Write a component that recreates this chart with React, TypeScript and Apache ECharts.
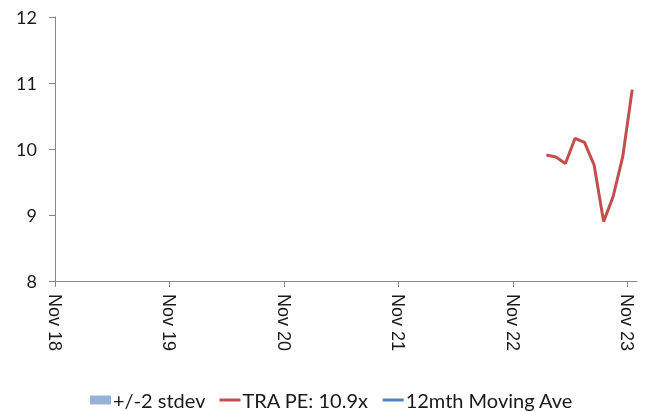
import React, { useEffect, useRef } from "react";
import * as echarts from "echarts";

// Month labels: months since Nov 2018 (mid-month observations)
const peMonths = ["2023-02", "2023-03", "2023-04", "2023-05", "2023-06", "2023-07", "2023-08", "2023-09", "2023-10", "2023-11"];
const peValues = [9.91, 9.88, 9.78, 10.16, 10.1, 9.76, 8.9, 9.28, 9.88, 10.9];
const xTickLabels = ["Nov 18", "Nov 19", "Nov 20", "Nov 21", "Nov 22", "Nov 23"];
const legendNames = ["+/-2 stdev", "TRA PE: 10.9x", "12mth Moving Ave"];

const monthIndex = (s: string) => {
  const [y, m] = s.split("-").map(Number);
  return (y - 2018) * 12 + (m - 11) + 0.5;
};

export default function App() {
  const ref = useRef<HTMLDivElement>(null);
  useEffect(() => {
    if (!ref.current) return;
    const chart = echarts.init(ref.current, undefined, { renderer: "svg" });
    const axisColor = "#868686";
    const tickVals = xTickLabels.map((_, i) => i * 12);
    chart.setOption({
      animation: false,
      grid: { left: 55, right: 21, top: 17, bottom: 130, containLabel: false },
      xAxis: {
        type: "value",
        min: 0,
        max: 61,
        interval: 12,
        axisLine: { show: true, lineStyle: { color: axisColor, width: 1 } },
        axisTick: { show: true, length: 6, lineStyle: { color: axisColor }, customValues: tickVals },
        splitLine: { show: false },
        axisLabel: {
          customValues: tickVals,
          rotate: -90,
          margin: 13,
          fontFamily: "Liberation Sans",
          fontSize: 18,
          color: "#1a1a1a",
          formatter: (v: number) => {
            const i = Math.round(v / 12);
            return Math.abs(v - i * 12) < 1e-6 ? xTickLabels[i] ?? "" : "";
          },
        },
      },
      yAxis: {
        type: "value",
        min: 8,
        max: 12,
        interval: 1,
        axisLine: { show: true, lineStyle: { color: axisColor, width: 1 } },
        axisTick: { show: true, length: 6, lineStyle: { color: axisColor } },
        splitLine: { show: false },
        axisLabel: { margin: 18, fontFamily: "Lato", fontSize: 18, color: "#1a1a1a" },
      },
      legend: {
        top: 390,
        left: 90,
        padding: 0,
        itemWidth: 21,
        itemHeight: 9,
        itemGap: 14,
        textStyle: { fontFamily: "Lato", fontSize: 20, color: "#1a1a1a", padding: [0, 0, 0, -3] },
        data: [
          { name: legendNames[0], icon: "rect" },
          { name: legendNames[1], icon: "path://M0,0H21V3H0Z" },
          { name: legendNames[2], icon: "path://M0,0H21V3H0Z" },
        ],
      },
      series: [
        {
          name: legendNames[0],
          type: "line",
          data: [],
          color: "#95B3D7",
          itemStyle: { color: "#95B3D7" },
          areaStyle: { color: "#95B3D7" },
        },
        {
          name: legendNames[1],
          type: "line",
          data: peMonths.map((m, i) => [monthIndex(m), peValues[i]]),
          color: "#C0504D",
          itemStyle: { color: "#C0504D" },
          lineStyle: { color: "#C0504D", width: 3 },
          showSymbol: false,
          symbol: "none",
        },
        {
          name: legendNames[2],
          type: "line",
          data: [],
          color: "#4F81BD",
          itemStyle: { color: "#4F81BD" },
          lineStyle: { color: "#4F81BD", width: 3 },
          symbol: "none",
        },
      ],
    });
    return () => chart.dispose();
  }, []);
  return (
    <div
      ref={ref}
      style={{ position: "fixed", left: 0, top: 0, width: 658, height: 411 }}
    />
  );
}
